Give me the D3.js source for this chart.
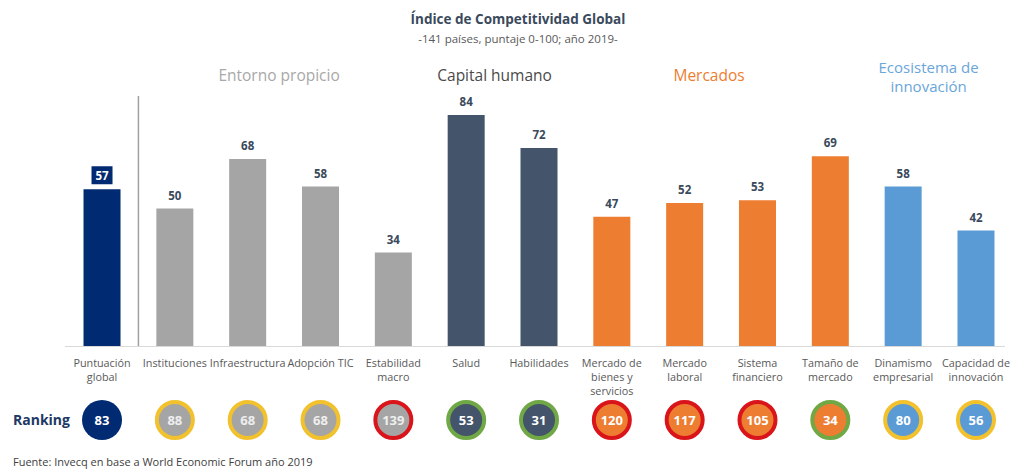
<!DOCTYPE html>
<html><head><meta charset="utf-8">
<script src="https://cdn.jsdelivr.net/npm/d3@7"></script>
<style>body{margin:0;background:#fff;}svg{display:block;font-family:"Open Sans",sans-serif;}</style>
</head><body><svg id="c" width="1010" height="471"></svg>
<script>
const categories = ["Puntuación global","Instituciones","Infraestructura","Adopción TIC","Estabilidad macro","Salud","Habilidades","Mercado de bienes y servicios","Mercado laboral","Sistema financiero","Tamaño de mercado","Dinamismo empresarial","Capacidad de innovación"];
const labelLines = [["Puntuación","global"],["Instituciones"],["Infraestructura"],["Adopción TIC"],["Estabilidad","macro"],["Salud"],["Habilidades"],["Mercado de","bienes y","servicios"],["Mercado","laboral"],["Sistema","financiero"],["Tamaño de","mercado"],["Dinamismo","empresarial"],["Capacidad de","innovación"]];
const scores = [57,50,68,58,34,84,72,47,52,53,69,58,42];
const rankings = [83,88,68,68,139,53,31,120,117,105,34,80,56];
const rankStatus = ["none","mid","mid","mid","bad","good","good","bad","bad","bad","good","mid","mid"];
const pillar = ["global","Entorno propicio","Entorno propicio","Entorno propicio","Entorno propicio","Capital humano","Capital humano","Mercados","Mercados","Mercados","Mercados","Ecosistema de innovación","Ecosistema de innovación"];
const groups = ["Entorno propicio","Capital humano","Mercados","Ecosistema de innovación"];
const groupLines = [["Entorno propicio"],["Capital humano"],["Mercados"],["Ecosistema de","innovación"]];

// layout / style
const groupShift = [-5,-8,-12,-11];
const pillarColor = {"global":"#002b73","Entorno propicio":"#a5a5a5","Capital humano":"#44546a","Mercados":"#ed7d31","Ecosistema de innovación":"#5b9bd5"};
const groupTextColor = {"Entorno propicio":"#a8a8a8","Capital humano":"#4a4a4a","Mercados":"#ed7d31","Ecosistema de innovación":"#6aa6da"};
const ringColor = {none:null, mid:"#f2c12e", bad:"#d9151b", good:"#6fa845"};

const svg = d3.select("#c");
const x = d3.scaleBand().domain(categories).range([65.6,1012.4]).paddingInner(0.492).paddingOuter(0.246);
const y = d3.scaleLinear().domain([0,100]).range([346,71]);
const cx = c => x(c) + x.bandwidth()/2;

// title
svg.append("text").attr("x",518).attr("y",24).attr("text-anchor","middle").attr("font-size",13.5).attr("font-weight","bold").attr("fill","#3a4a5c").text("Índice de Competitividad Global");
svg.append("text").attr("x",518).attr("y",43).attr("text-anchor","middle").attr("font-size",11.5).attr("fill","#595959").text("-141 países, puntaje 0-100; año 2019-");

// group headers
groups.forEach((g,gi)=>{
  const cats = categories.filter((c,i)=>pillar[i]===g);
  const mid = (cx(cats[0]) + cx(cats[cats.length-1]))/2 + groupShift[gi];
  const lines = groupLines[gi];
  const y0 = lines.length===1 ? 81 : 73;
  lines.forEach((l,i)=>svg.append("text").attr("text-anchor","middle")
    .attr("font-size",lines.length===1?15.5:15).attr("fill",groupTextColor[g])
    .attr("x",mid).attr("y",y0+i*19).text(l));
});

// separator
const sepX = (cx(categories[0])+cx(categories[1]))/2;
svg.append("line").attr("x1",sepX).attr("x2",sepX).attr("y1",96).attr("y2",346).attr("stroke","#a0a0a0").attr("stroke-width",1.5);

// bars
svg.selectAll("rect.bar").data(categories).join("rect").attr("class","bar")
  .attr("x",c=>x(c)).attr("width",x.bandwidth())
  .attr("y",(c,i)=>y(scores[i])).attr("height",(c,i)=>y(0)-y(scores[i]))
  .attr("fill",(c,i)=>pillarColor[pillar[i]]);

// baseline
svg.append("line").attr("x1",65).attr("x2",1005).attr("y1",346.5).attr("y2",346.5).attr("stroke","#d9d9d9").attr("stroke-width",1.2);

// value labels
categories.forEach((c,i)=>{
  const ty = y(scores[i]) - 10;
  if(i===0){
    svg.append("rect").attr("x",cx(c)-10.5).attr("y",ty-13).attr("width",21).attr("height",18).attr("fill","#002b73");
    svg.append("text").attr("x",cx(c)).attr("y",ty+1).attr("text-anchor","middle").attr("font-size",11.5).attr("font-weight","bold").attr("fill","#fff").text(scores[i]);
  } else {
    svg.append("text").attr("x",cx(c)).attr("y",ty+1).attr("text-anchor","middle").attr("font-size",11.5).attr("font-weight","bold").attr("fill","#3a4a5c").text(scores[i]);
  }
});

// category labels
categories.forEach((c,i)=>{
  const t = svg.append("text").attr("text-anchor","middle").attr("font-size",10.8).attr("fill","#595959");
  labelLines[i].forEach((l,j)=>t.append("tspan").attr("x",cx(c)).attr("y",367+j*14).text(l));
});

// ranking
svg.append("text").attr("x",13).attr("y",425).attr("font-size",14).attr("font-weight","bold").attr("fill","#203864").text("Ranking");
categories.forEach((c,i)=>{
  const rc = ringColor[rankStatus[i]];
  svg.append("circle").attr("cx",cx(c)).attr("cy",420).attr("r", rc?18:20)
    .attr("fill",pillarColor[pillar[i]])
    .attr("stroke", rc||"none").attr("stroke-width", rc?4:0);
  svg.append("text").attr("x",cx(c)).attr("y",425).attr("text-anchor","middle").attr("font-size",13).attr("font-weight","bold")
    .attr("fill", pillar[i]==="Entorno propicio" ? "#eeeeee" : "#ffffff").text(rankings[i]);
});

// source
svg.append("text").attr("x",13).attr("y",466).attr("font-size",11).attr("fill","#404040").text("Fuente: Invecq en base a World Economic Forum año 2019");
</script>
</body></html>
